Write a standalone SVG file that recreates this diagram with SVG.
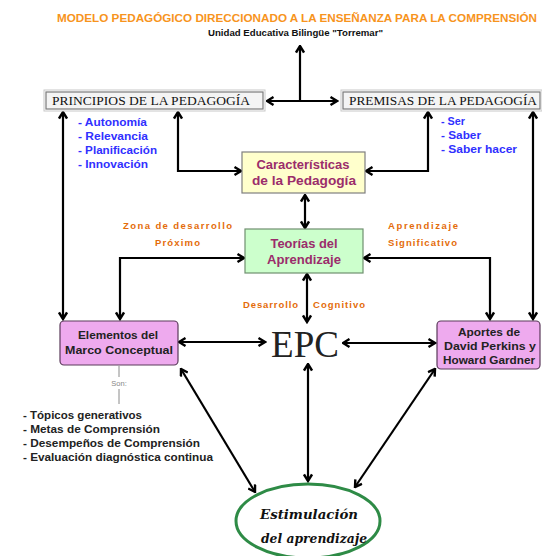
<svg xmlns="http://www.w3.org/2000/svg" width="542" height="556" viewBox="0 0 542 556">
<style>
.bg{fill:#fff}
.ttl{font-family:"Liberation Sans",Arial,sans-serif;font-weight:bold;font-size:11.5px;fill:#f7941d}
.sub{font-family:"Liberation Sans",Arial,sans-serif;font-weight:bold;font-size:8.5px;fill:#111}
.hdr{fill:#f4f4f4;stroke:#7a7a7a;stroke-width:1.2}
.hdrs{fill:none;stroke:#c8c8c8;stroke-width:1}
.htx{font-family:"Liberation Serif","Times New Roman",serif;font-size:11.5px;fill:#111}
.blu{font-family:"Liberation Sans",Arial,sans-serif;font-weight:bold;font-size:10.5px;fill:#3030ff}
.org{font-family:"Liberation Sans",Arial,sans-serif;font-weight:bold;font-size:9.5px;fill:#e46c0a}
.mar{font-family:"Liberation Sans",Arial,sans-serif;font-weight:bold;font-size:12px;fill:#9b2d6b;text-anchor:middle}
.blk{font-family:"Liberation Sans",Arial,sans-serif;font-weight:bold;font-size:10.5px;fill:#222;text-anchor:middle}
.lst{font-family:"Liberation Sans",Arial,sans-serif;font-weight:bold;font-size:10.5px;fill:#222}
.pink{fill:#eeaaee;stroke:#5a3a5a;stroke-width:1.2}
.con{fill:none;stroke:#000;stroke-width:2.2;marker-start:url(#ah);marker-end:url(#ah)}
.one{fill:none;stroke:#000;stroke-width:2.2;marker-end:url(#ah)}
.scr{font-family:"DejaVu Serif",serif;font-weight:bold;font-style:italic;font-size:13px;fill:#111;text-anchor:middle}
</style>
<defs>
<marker id="ah" viewBox="0 0 10 10" refX="8.5" refY="5" markerWidth="10" markerHeight="10" markerUnits="userSpaceOnUse" orient="auto-start-reverse">
<path d="M2,1 L8.5,5 L2,9" fill="none" stroke="#000" stroke-width="2.4"/>
</marker>
</defs>
<rect class="bg" x="0" y="0" width="542" height="556"/>

<g id="title">
<text class="ttl" x="57" y="22" textLength="480" lengthAdjust="spacingAndGlyphs">MODELO PEDAGÓGICO DIRECCIONADO A LA ENSEÑANZA PARA LA COMPRENSIÓN</text>
<text class="sub" x="208" y="36" textLength="175" lengthAdjust="spacingAndGlyphs">Unidad Educativa Bilingüe "Torremar"</text>
</g>

<g id="connectors">
<path class="one" d="M300,101 L300,46"/>
<path class="con" d="M267,101 L337,101"/>
<path class="con" d="M63,112 L63,319"/>
<path class="con" d="M178,112 L178,171 L241,171"/>
<path class="con" d="M428,112 L428,171 L366,171"/>
<path class="con" d="M305,195 L305,228"/>
<path class="con" d="M120,319 L120,258 L244,258"/>
<path class="con" d="M364,258 L490,258 L490,319"/>
<path class="con" d="M533,112 L533,319"/>
<path class="con" d="M307,274 L307,322"/>
<path class="con" d="M179,342 L265,342"/>
<path class="con" d="M343,343 L435,343"/>
<path class="con" d="M181,369 L255,492"/>
<path class="con" d="M308,364 L308,481"/>
<path class="con" d="M435,369 L355,487"/>
<path d="M119,366 L119,377 M119,389 L119,404" fill="none" stroke="#8a8a8a" stroke-width="1"/>
</g>

<g id="principios">
<rect class="hdrs" x="44" y="90" width="221" height="21"/>
<rect class="hdr" x="46" y="92" width="217" height="17"/>
<text class="htx" x="52" y="105" textLength="198" lengthAdjust="spacingAndGlyphs">PRINCIPIOS DE LA PEDAGOGÍA</text>
</g>
<g id="premisas">
<rect class="hdrs" x="341" y="90" width="201" height="21"/>
<rect class="hdr" x="343" y="92" width="197" height="17"/>
<text class="htx" x="349" y="105" textLength="188" lengthAdjust="spacingAndGlyphs">PREMISAS DE LA PEDAGOGÍA</text>
</g>

<g id="principios-list">
<text class="blu" x="78" y="126" textLength="69" lengthAdjust="spacingAndGlyphs">- Autonomía</text>
<text class="blu" x="78" y="140" textLength="70" lengthAdjust="spacingAndGlyphs">- Relevancia</text>
<text class="blu" x="78" y="154" textLength="79" lengthAdjust="spacingAndGlyphs">- Planificación</text>
<text class="blu" x="78" y="168" textLength="70" lengthAdjust="spacingAndGlyphs">- Innovación</text>
</g>
<g id="premisas-list">
<text class="blu" x="441" y="125" textLength="24" lengthAdjust="spacingAndGlyphs">- Ser</text>
<text class="blu" x="441" y="139" textLength="40" lengthAdjust="spacingAndGlyphs">- Saber</text>
<text class="blu" x="441" y="153" textLength="76" lengthAdjust="spacingAndGlyphs">- Saber hacer</text>
</g>

<g id="caracteristicas">
<rect x="242" y="152" width="123" height="41" fill="#ffffcc" stroke="#7f7f7f" stroke-width="1.2"/>
<text class="mar" x="303" y="169" textLength="93" lengthAdjust="spacingAndGlyphs">Características</text>
<text class="mar" x="304" y="185" textLength="104" lengthAdjust="spacingAndGlyphs">de la Pedagogía</text>
</g>

<g id="teorias">
<rect x="245" y="229" width="118" height="44" fill="#ccffcc" stroke="#6f8f6f" stroke-width="1.2"/>
<text class="mar" x="304" y="248" textLength="67" lengthAdjust="spacingAndGlyphs">Teorías del</text>
<text class="mar" x="304" y="264" textLength="74" lengthAdjust="spacingAndGlyphs">Aprendizaje</text>
</g>

<g id="labels">
<text class="org" x="123" y="229" textLength="109" lengthAdjust="spacing">Zona de desarrollo</text>
<text class="org" x="155" y="246" textLength="45" lengthAdjust="spacing">Próximo</text>
<text class="org" x="388" y="229" textLength="70" lengthAdjust="spacing">Aprendizaje</text>
<text class="org" x="388" y="246" textLength="69" lengthAdjust="spacing">Significativo</text>
<text class="org" x="243" y="308" textLength="55" lengthAdjust="spacing">Desarrollo</text>
<text class="org" x="313" y="308" textLength="52" lengthAdjust="spacing">Cognitivo</text>
</g>

<g id="elementos">
<rect class="pink" x="60" y="321" width="118" height="44" rx="4"/>
<text class="blk" x="118" y="339" textLength="80" lengthAdjust="spacingAndGlyphs">Elementos del</text>
<text class="blk" x="119" y="354" textLength="108" lengthAdjust="spacingAndGlyphs">Marco Conceptual</text>
<text x="119" y="386" text-anchor="middle" font-family="Liberation Sans,Arial,sans-serif" font-size="7.5" fill="#888">Son:</text>
</g>
<g id="elementos-list">
<text class="lst" x="23" y="419" textLength="119" lengthAdjust="spacingAndGlyphs">- Tópicos generativos</text>
<text class="lst" x="23" y="433" textLength="137" lengthAdjust="spacingAndGlyphs">- Metas de Comprensión</text>
<text class="lst" x="23" y="447" textLength="177" lengthAdjust="spacingAndGlyphs">- Desempeños de Comprensión</text>
<text class="lst" x="23" y="461" textLength="190" lengthAdjust="spacingAndGlyphs">- Evaluación diagnóstica continua</text>
</g>

<g id="epc">
<text x="305" y="357" text-anchor="middle" font-family="Liberation Serif,Times New Roman,serif" font-size="37" fill="#222">EPC</text>
</g>

<g id="aportes">
<rect class="pink" x="437" y="321" width="103" height="48" rx="4"/>
<text class="blk" x="489" y="336" textLength="62" lengthAdjust="spacingAndGlyphs">Aportes de</text>
<text class="blk" x="490" y="350" textLength="92" lengthAdjust="spacingAndGlyphs">David Perkins y</text>
<text class="blk" x="489" y="364" textLength="92" lengthAdjust="spacingAndGlyphs">Howard Gardner</text>
</g>

<g id="estimulacion">
<ellipse cx="308" cy="521" rx="72" ry="37" fill="#fff" stroke="#2e8b46" stroke-width="3"/>
<text class="scr" x="309" y="519" textLength="98" lengthAdjust="spacingAndGlyphs">Estimulación</text>
<text class="scr" x="314" y="543" textLength="106" lengthAdjust="spacingAndGlyphs">del aprendizaje</text>
</g>
</svg>
